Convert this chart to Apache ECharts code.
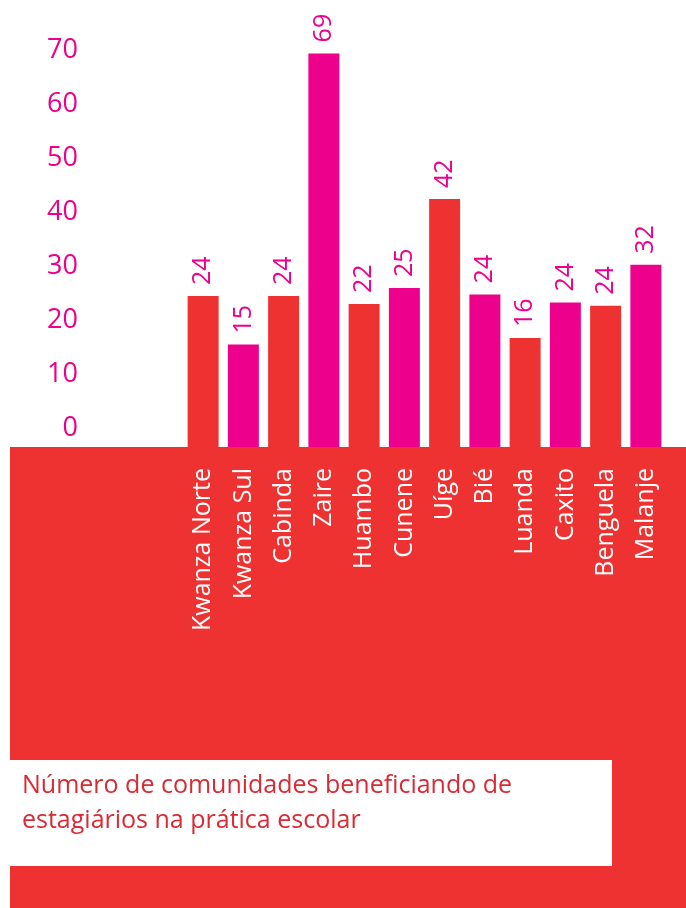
<!DOCTYPE html>
<html>
<head>
<meta charset="utf-8">
<script src="https://cdn.jsdelivr.net/npm/echarts@6/dist/echarts.min.js"></script>
<style>
  html, body { margin: 0; padding: 0; background: #fff; }
  #chart { width: 686px; height: 908px; }
</style>
</head>
<body>
<div id="chart"></div>
<script>
// dados
var provincias = ['Kwanza Norte', 'Kwanza Sul', 'Cabinda', 'Zaire', 'Huambo', 'Cunene',
  'Uíge', 'Bié', 'Luanda', 'Caxito', 'Benguela', 'Malanje']
// altura das barras como desenhadas
var alturas = [24, 15, 24, 69, 22.5, 25.5, 42, 24.3, 16.2, 22.8, 22.2, 29.8]
// valores escritos por cima das barras
var rotulos = [24, 15, 24, 69, 22, 25, 42, 24, 16, 24, 24, 32]
var yTicks = [0, 10, 20, 30, 40, 50, 60, 70]

var vermelho = '#EE3231'
var magenta = '#EC008C'
var cores = [vermelho, magenta, vermelho, magenta, vermelho, magenta,
  vermelho, magenta, vermelho, magenta, vermelho, magenta]

var chart = echarts.init(document.getElementById('chart'))

var option = {
  animation: false,
  textStyle: { fontFamily: 'Open Sans' },
  grid: [
    // só para os números do eixo y
    { left: 86, right: 20, top: 50, bottom: 480 },
    // barras
    { left: 183, right: 20, top: 48, bottom: 461 }
  ],
  xAxis: [
    { gridIndex: 0, type: 'category', data: provincias, show: false },
    {
      gridIndex: 1,
      type: 'category',
      data: provincias,
      axisLine: { show: false },
      axisTick: { show: false },
      axisLabel: {
        interval: 0,
        rotate: 90,
        margin: 21,
        color: '#fff',
        fontSize: 25,
        fontFamily: 'Open Sans'
      }
    }
  ],
  yAxis: [
    {
      gridIndex: 0,
      type: 'value',
      min: yTicks[0],
      max: yTicks[yTicks.length - 1],
      interval: 10,
      axisLine: { show: false },
      axisTick: { show: false },
      splitLine: { show: false },
      axisLabel: {
        margin: 8,
        color: magenta,
        fontSize: 27,
        fontFamily: 'Open Sans'
      }
    },
    {
      gridIndex: 1,
      type: 'value',
      min: -4,
      max: 70,
      startValue: -4,
      show: false,
      splitLine: { show: false }
    }
  ],
  graphic: [
    {
      type: 'rect',
      z: -10,
      shape: { x: 10, y: 447, width: 676, height: 461 },
      style: { fill: vermelho }
    },
    {
      type: 'rect',
      z: 100,
      shape: { x: 10, y: 760, width: 602, height: 106 },
      style: { fill: '#fff' }
    },
    {
      type: 'text',
      z: 101,
      left: 22,
      top: 768,
      style: {
        text: 'Número de comunidades beneficiando de\nestagiários na prática escolar',
        fill: '#DA2A34',
        font: '25px "Open Sans"',
        lineHeight: 35
      }
    }
  ],
  series: [
    {
      type: 'bar',
      xAxisIndex: 1,
      yAxisIndex: 1,
      data: alturas,
      barWidth: 31,
      itemStyle: {
        color: function (p) { return cores[p.dataIndex] }
      },
      label: {
        show: true,
        position: 'top',
        distance: 11,
        rotate: 90,
        align: 'left',
        verticalAlign: 'middle',
        color: magenta,
        fontSize: 25,
        fontFamily: 'Open Sans',
        formatter: function (p) { return rotulos[p.dataIndex] }
      }
    }
  ]
}

chart.setOption(option)
</script>
</body>
</html>
